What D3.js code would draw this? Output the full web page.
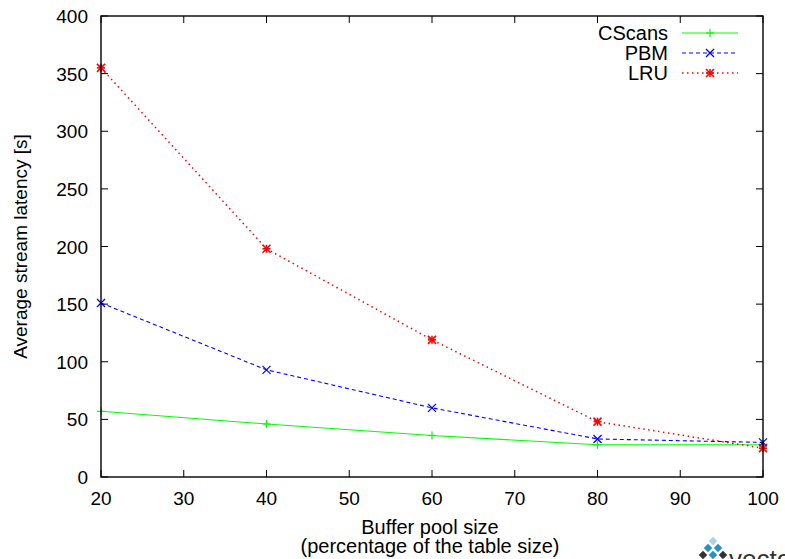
<!DOCTYPE html>
<html>
<head>
<meta charset="utf-8">
<script src="https://cdn.jsdelivr.net/npm/d3@7"></script>
<style>
  body { margin: 0; background: #fff; }
  text { font-family: "Liberation Sans", Arial, sans-serif; fill: #000; }
</style>
</head>
<body>
<div id="chart"></div>
<script>
const bufferSizes = [20, 40, 60, 80, 100];
const cscans = [57, 46, 36, 28, 28];
const pbm = [151, 93, 60, 33, 30];
const lru = [355, 198, 119, 48, 25];
const xTicks = [20, 30, 40, 50, 60, 70, 80, 90, 100];
const yTicks = [0, 50, 100, 150, 200, 250, 300, 350, 400];

const width = 785, height = 559;
const margin = {left: 101, right: 22, top: 16, bottom: 82};

const svg = d3.select('#chart').append('svg')
  .attr('width', width).attr('height', height);

const x = d3.scaleLinear().domain([20, 100]).range([margin.left, width - margin.right]);
const y = d3.scaleLinear().domain([0, 400]).range([height - margin.bottom, margin.top]);

const series = [
  {name: 'CScans', values: cscans, color: '#00ff00', dash: null, marker: 'plus'},
  {name: 'PBM', values: pbm, color: '#0000ff', dash: '4,3', marker: 'cross'},
  {name: 'LRU', values: lru, color: '#ff0000', dash: '1.5,3.5', marker: 'star'}
];

// ticks, drawn inward on all four sides
const tickLen = 7;
const gTicks = svg.append('g').attr('stroke', '#000').attr('stroke-width', 1);
xTicks.forEach(t => {
  gTicks.append('line').attr('x1', x(t)).attr('x2', x(t)).attr('y1', y(0)).attr('y2', y(0) - tickLen);
  gTicks.append('line').attr('x1', x(t)).attr('x2', x(t)).attr('y1', y(400)).attr('y2', y(400) + tickLen);
});
yTicks.forEach(t => {
  gTicks.append('line').attr('x1', x(20)).attr('x2', x(20) + tickLen).attr('y1', y(t)).attr('y2', y(t));
  gTicks.append('line').attr('x1', x(100)).attr('x2', x(100) - tickLen).attr('y1', y(t)).attr('y2', y(t));
});

// tick labels
svg.append('g').selectAll('text').data(xTicks).enter().append('text')
  .attr('x', d => x(d)).attr('y', y(0) + 28)
  .attr('text-anchor', 'middle').attr('font-size', 19).text(d => d);
svg.append('g').selectAll('text').data(yTicks).enter().append('text')
  .attr('x', x(20) - 13).attr('y', d => y(d) + 7)
  .attr('text-anchor', 'end').attr('font-size', 19).text(d => d);

// axis titles
svg.append('text').attr('x', 430).attr('y', 534)
  .attr('text-anchor', 'middle').attr('font-size', 20).text('Buffer pool size');
svg.append('text').attr('x', 430).attr('y', 553)
  .attr('text-anchor', 'middle').attr('font-size', 20).text('(percentage of the table size)');
svg.append('text')
  .attr('transform', `translate(27,${(y(0) + y(400)) / 2}) rotate(-90)`)
  .attr('text-anchor', 'middle').attr('font-size', 19).text('Average stream latency [s]');

function drawMarker(g, cx, cy, type, color) {
  const s = 4;
  const m = g.append('g').attr('stroke', color).attr('stroke-width', 1.2);
  if (type === 'plus' || type === 'star') {
    m.append('line').attr('x1', cx - s).attr('x2', cx + s).attr('y1', cy).attr('y2', cy);
    m.append('line').attr('x1', cx).attr('x2', cx).attr('y1', cy - s).attr('y2', cy + s);
  }
  if (type === 'cross' || type === 'star') {
    m.append('line').attr('x1', cx - s).attr('x2', cx + s).attr('y1', cy - s).attr('y2', cy + s);
    m.append('line').attr('x1', cx - s).attr('x2', cx + s).attr('y1', cy + s).attr('y2', cy - s);
  }
  if (type === 'star') {
    m.attr('stroke-width', 1.6);
  }
}

const line = d3.line().x(d => x(d[0])).y(d => y(d[1]));

series.forEach(s => {
  const pts = bufferSizes.map((b, i) => [b, s.values[i]]);
  svg.append('path').attr('d', line(pts)).attr('fill', 'none')
    .attr('stroke', s.color).attr('stroke-width', s.marker === 'star' ? 1.5 : 1.1)
    .attr('stroke-dasharray', s.dash);
  const g = svg.append('g');
  pts.forEach(p => drawMarker(g, x(p[0]), y(p[1]), s.marker, s.color));
});

// frame
svg.append('rect').attr('x', x(20)).attr('y', y(400))
  .attr('width', x(100) - x(20)).attr('height', y(0) - y(400))
  .attr('fill', 'none').attr('stroke', '#000').attr('stroke-width', 1.4);

// legend
const legend = svg.append('g');
series.forEach((s, i) => {
  const ly = 33 + i * 20;
  legend.append('text').attr('x', 668).attr('y', ly + 7)
    .attr('text-anchor', 'end').attr('font-size', 20).text(s.name);
  legend.append('line').attr('x1', 682).attr('x2', 738).attr('y1', ly).attr('y2', ly)
    .attr('stroke', s.color).attr('stroke-width', s.marker === 'star' ? 1.5 : 1.1)
    .attr('stroke-dasharray', s.dash);
  drawMarker(legend, 710, ly, s.marker, s.color);
});

// watermark fragment at bottom right
const wm = svg.append('g');
[[713, 541, '#a8d4ea'], [708, 548, '#2a8fc6'], [718, 548, '#2a8fc6'],
 [703, 555, '#333'], [713, 555, '#2a8fc6'], [723, 555, '#333']]
  .forEach(d => {
    wm.append('rect').attr('x', d[0] - 3).attr('y', d[1] - 3).attr('width', 6).attr('height', 6)
      .attr('transform', `rotate(45,${d[0]},${d[1]})`).attr('fill', d[2]);
  });
wm.append('text').attr('x', 729).attr('y', 568).attr('font-size', 26)
  .style('fill', '#333').text('vecto');
</script>
</body>
</html>
